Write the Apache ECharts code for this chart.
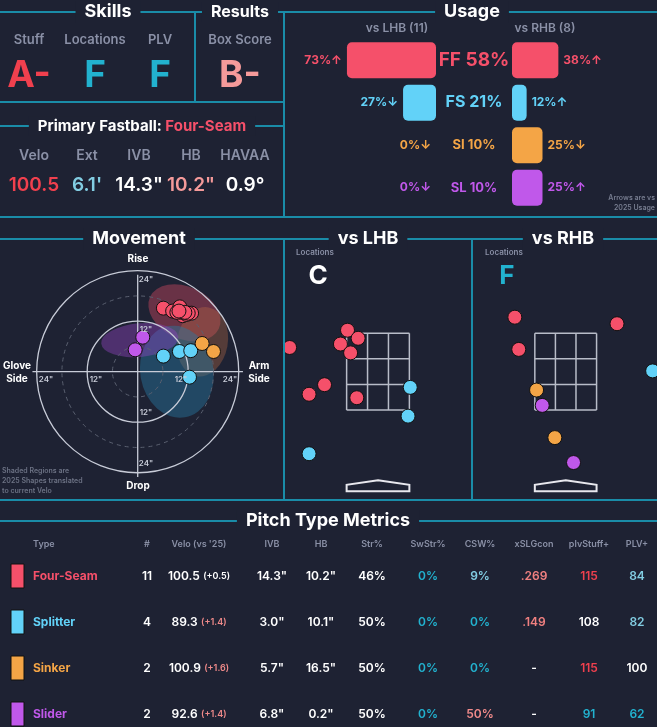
<!DOCTYPE html>
<html><head><meta charset="utf-8">
<script src="https://cdn.jsdelivr.net/npm/echarts@6/dist/echarts.min.js"></script>
<style>html,body{margin:0;background:#1e2233}#c{width:657px;height:727px}</style>
</head><body><div id="c"></div>
<script>
// -- données ---------------------------------------------------------------
const pitchCodes = ['FF', 'FS', 'SI', 'SL'];
const pitchNames = ['Four-Seam', 'Splitter', 'Sinker', 'Slider'];
const pitchColors = ['#f5506a', '#62d2f8', '#f4a546', '#c058ea'];

const usageTotal = [58, 21, 10, 10];
const lhbUsage = [73, 27, 0, 0];
const lhbArrow = ['↑', '↓', '↓', '↓'];
const rhbUsage = [38, 12, 25, 25];
const rhbArrow = ['↑', '↑', '↓', '↑'];

// mouvement (HB, IVB en pouces) par type
const moveFF = [[6.1, 15.1], [8.3, 14.4], [10.0, 15.4], [10.7, 13.3], [11.6, 13.6], [12.8, 13.9],
  [10.4, 14.1], [9.3, 14.1], [12.0, 13.9], [11.2, 14.1], [9.8, 14.4]];
const moveFS = [[6.1, 3.7], [9.9, 4.8], [12.6, 5.0], [12.3, -1.3]];
const moveSI = [[15.3, 6.7], [18.0, 4.8]];
const moveSL = [[1.2, 8.2], [-0.6, 5.2]];
// ellipses 2025 : cx, cy, rx, ry, angle°
const shapes = [[11.1, 14.0, 9.0, 6.2, -25], [15.4, 7.1, 6.0, 8.3, -10], [9.3, 0.0, 8.7, 11.0, 10], [0.5, 7.5, 9.2, 4.0, 5]];
const shapeColors = ['rgba(245,80,106,0.35)', 'rgba(190,110,70,0.35)', 'rgba(40,120,160,0.45)', 'rgba(150,70,200,0.4)'];
const rings = [[24, 0], [18, 1], [12, 0], [6, 1]];

// localisations (x, z en pieds)
const lhbFF = [[-0.69, 3.58], [-0.45, 3.37], [-0.85, 3.22], [-0.62, 2.99], [-1.21, 2.16], [-1.56, 1.91], [-0.48, 1.82], [-2.0, 3.13]];
const lhbFS = [[0.73, 2.09], [0.68, 1.34], [-1.56, 0.36]];
const rhbFF = [[-1.17, 3.92], [1.18, 3.75], [-1.08, 3.08]];
const rhbFS = [[2.0, 2.52]];
const rhbSI = [[-0.67, 2.02], [-0.25, 0.78]];
const rhbSL = [[-0.54, 1.62], [0.18, 0.13]];
const zone = [-0.71, 0.71, 1.5, 3.5];

const tableHeaders = ['Type', '#', "Velo (vs '25)", 'IVB', 'HB', 'Str%', 'SwStr%', 'CSW%', 'xSLGcon', 'plvStuff+', 'PLV+'];
const counts = ['11', '4', '2', '2'];
const velo = ['100.5', '89.3', '100.9', '92.6'];
const veloDiff = ['(+0.5)', '(+1.4)', '(+1.6)', '(+1.4)'];
const ivb = ['14.3"', '3.0"', '5.7"', '6.8"'];
const hb = ['10.2"', '10.1"', '16.5"', '0.2"'];
const strPct = ['46%', '50%', '50%', '50%'];
const swStr = ['0%', '0%', '0%', '0%'];
const csw = ['9%', '0%', '0%', '50%'];
const xslg = ['.269', '.149', '-', '-'];
const plvStuff = ['115', '108', '115', '91'];
const plv = ['84', '82', '100', '62'];

// -- couleurs / helpers ----------------------------------------------------
const BG = '#1e2233', LINE = '#1a8ca8', GREY = '#8a90a6', F = 'Inter, Lato, sans-serif';
const RED = '#f0404e', TEAL = '#22b2cf', PINK = '#f59a9a', LBLUE = '#82cde2';
const g = [];
function txt(x, y, text, o = {}) {
  g.push({ type: 'text', x, y, z: 20, style: Object.assign({ text, fill: '#fff', font: `600 13px ${F}`, align: 'center', verticalAlign: 'middle' }, o) });
}
function ln(x1, y1, x2, y2) {
  g.push({ type: 'line', z: 5, shape: { x1, y1, x2, y2 }, style: { stroke: LINE, lineWidth: 2 } });
}
function title(x, y, text, size = 18) {
  txt(x, y, text, { font: `700 ${size}px ${F}`, backgroundColor: BG, padding: [2, 9] });
}

// cadre
ln(0, 12, 657, 12); ln(195, 12, 195, 102); ln(0, 102, 284, 102); ln(0, 126, 284, 126);
ln(284, 12, 284, 217); ln(0, 217, 657, 217);
ln(0, 239, 657, 239); ln(284, 239, 284, 500); ln(472, 239, 472, 500); ln(0, 500, 657, 500);
ln(0, 521, 657, 521);
title(108, 12, 'Skills'); title(240, 12, 'Results', 16); title(472, 12, 'Usage');
title(139, 239, 'Movement'); title(368, 239, 'vs LHB'); title(563, 239, 'vs RHB');
title(328, 521, 'Pitch Type Metrics');
g.push({ type: 'text', x: 142, y: 126, z: 20, style: { text: '{w|Primary Fastball: }{r|Four-Seam}', align: 'center', verticalAlign: 'middle', backgroundColor: BG, padding: [2, 9],
  rich: { w: { fill: '#fff', font: `700 15px ${F}` }, r: { fill: pitchColors[0], font: `700 15px ${F}` } } } });

// Skills / Results
[['Stuff', 29, 'A-', RED], ['Locations', 95, 'F', TEAL], ['PLV', 160, 'F', TEAL], ['Box Score', 240, 'B-', PINK]].forEach(([l, x, v, c]) => {
  txt(x, 40, l, { fill: GREY, font: `600 13px ${F}` });
  txt(x, 76, v, { fill: c, font: `700 37px ${F}` });
});
[['Velo', 34, '100.5', RED], ['Ext', 87, "6.1'", LBLUE], ['IVB', 139, '14.3"', '#fff'], ['HB', 191, '10.2"', PINK], ['HAVAA', 245, '0.9°', '#fff']].forEach(([l, x, v, c]) => {
  txt(x, 156, l, { fill: GREY, font: `600 14px ${F}` });
  txt(x, 185, v, { fill: c, font: `600 19px ${F}` });
});

// Usage
txt(397, 28, 'vs LHB (11)', { fill: GREY, font: `600 12px ${F}` });
txt(545, 28, 'vs RHB (8)', { fill: GREY, font: `600 12px ${F}` });
const rowY = [60, 102, 145, 188];
pitchCodes.forEach((c, i) => txt(474, rowY[i], `${c} ${usageTotal[i]}%`, { fill: pitchColors[i], font: `700 ${i === 0 ? 19 : i === 1 ? 16 : 13}px ${F}` }));
txt(655, 198, 'Arrows are vs', { fill: '#777d90', font: `600 7px ${F}`, align: 'right' });
txt(655, 208, '2025 Usage', { fill: '#777d90', font: `600 7px ${F}`, align: 'right' });

// Movement
[['Rise', 138, 259], ['Drop', 138, 486]].forEach(([t, x, y]) => txt(x, y, t, { font: `700 10px ${F}` }));
txt(17, 372, 'Glove\nSide', { font: `700 10px ${F}`, lineHeight: 13 });
txt(259, 372, 'Arm\nSide', { font: `700 10px ${F}`, lineHeight: 13 });
[['24"', 146, 280], ['12"', 146, 330], ['12"', 146, 413], ['24"', 146, 464], ['24"', 46, 380], ['12"', 96, 380], ['12"', 181, 380], ['24"', 230, 380]]
  .forEach(([t, x, y]) => txt(x, y, t, { fill: '#c8ccd8', font: `600 8px ${F}` }));
['Shaded Regions are', '2025 Shapes translated', 'to current Velo'].forEach((t, i) =>
  txt(2, 471 + i * 10, t, { fill: '#6c7284', font: `600 7px ${F}`, align: 'left' }));

// Locations
txt(296, 253, 'Locations', { fill: GREY, font: `600 8px ${F}`, align: 'left' });
txt(318, 276, 'C', { font: `700 26px ${F}` });
txt(485, 253, 'Locations', { fill: GREY, font: `600 8px ${F}`, align: 'left' });
txt(507, 276, 'F', { fill: TEAL, font: `700 26px ${F}` });

// Table
const colX = [33, 147, 199, 272, 321, 372, 428, 480, 534, 589, 637];
tableHeaders.forEach((h, j) => txt(colX[j], 544, h, { fill: GREY, font: `600 9px ${F}`, align: j === 0 ? 'left' : 'center' }));
const tableRowY = [576, 622, 668, 714];
pitchNames.forEach((n, i) => {
  const y = tableRowY[i], f = `600 12px ${F}`;
  g.push({ type: 'rect', z: 10, shape: { x: 11, y: y - 12, width: 13, height: 24 }, style: { fill: pitchColors[i], stroke: '#111', lineWidth: 1 } });
  txt(33, y, n, { fill: pitchColors[i], align: 'left', font: `700 12px ${F}` });
  txt(147, y, counts[i], { font: f });
  g.push({ type: 'text', x: 199, y, z: 20, style: { text: `{v|${velo[i]}} {d|${veloDiff[i]}}`, align: 'center', verticalAlign: 'middle',
    rich: { v: { fill: '#fff', font: f }, d: { fill: i === 0 ? '#fff' : '#f08a8a', font: `600 9px ${F}` } } } });
  txt(272, y, ivb[i], { font: f }); txt(321, y, hb[i], { font: f }); txt(372, y, strPct[i], { font: f });
  txt(428, y, swStr[i], { font: f, fill: TEAL });
  txt(480, y, csw[i], { font: f, fill: csw[i] === '50%' ? '#f08a8a' : csw[i] === '0%' ? TEAL : LBLUE });
  txt(534, y, xslg[i], { font: f, fill: xslg[i] === '-' ? '#fff' : '#f08080' });
  const s = +plvStuff[i];
  txt(589, y, plvStuff[i], { font: f, fill: s >= 110 ? RED : s < 100 ? TEAL : '#fff' });
  const p = +plv[i];
  txt(637, y, plv[i], { font: f, fill: p >= 100 ? '#fff' : p < 70 ? TEAL : LBLUE });
});

// -- séries ----------------------------------------------------------------
const dot = (name, data, color, gi) => ({
  name, type: 'scatter', xAxisIndex: gi, yAxisIndex: gi, data, symbolSize: 14, z: 4,
  itemStyle: { color, borderColor: '#111', borderWidth: 1, opacity: 1 }, silent: true,
});
const zoneSeries = (gi) => ({
  type: 'custom', xAxisIndex: gi, yAxisIndex: gi, data: [zone], silent: true, clip: false, z: 2,
  renderItem: (params, api) => {
    const [x0, x1, z0, z1] = [api.value(0), api.value(1), api.value(2), api.value(3)];
    const st = { stroke: '#b8bcc8', lineWidth: 1.5, fill: null };
    const ch = [];
    for (let k = 0; k <= 3; k++) {
      const x = x0 + (x1 - x0) * k / 3, z = z0 + (z1 - z0) * k / 3;
      const a = api.coord([x, z0]), b = api.coord([x, z1]);
      ch.push({ type: 'line', shape: { x1: a[0], y1: a[1], x2: b[0], y2: b[1] }, style: st });
      const c = api.coord([x0, z]), d = api.coord([x1, z]);
      ch.push({ type: 'line', shape: { x1: c[0], y1: c[1], x2: d[0], y2: d[1] }, style: st });
    }
    const pts = [[0, -0.33], [x1, -0.45], [x1, -0.62], [x0, -0.62], [x0, -0.45]].map((p) => api.coord(p));
    ch.push({ type: 'polygon', shape: { points: pts }, style: { stroke: '#e8e8ee', lineWidth: 2, fill: null } });
    return { type: 'group', children: ch };
  },
});

const usageLabel = (arr, pos) => ({
  show: true, position: pos, distance: 5,
  formatter: (p) => `{c${p.dataIndex}|${p.value}%${arr[p.dataIndex]}}`,
  rich: Object.fromEntries(pitchColors.map((c, i) => [`c${i}`, { color: c, fontFamily: F, fontWeight: 700, fontSize: 12 }])),
});

const series = [
  { type: 'custom', xAxisIndex: 0, yAxisIndex: 0, data: shapes, silent: true, clip: false, z: 1,
    renderItem: (params, api) => {
      const c = api.coord([api.value(0), api.value(1)]), s = api.size([1, 1]);
      return { type: 'circle', x: c[0], y: c[1], rotation: api.value(4) * Math.PI / 180,
        scaleX: api.value(2) * s[0], scaleY: api.value(3) * s[1], shape: { cx: 0, cy: 0, r: 1 },
        style: { fill: shapeColors[params.dataIndex] } };
    } },
  { type: 'custom', xAxisIndex: 0, yAxisIndex: 0, data: rings, silent: true, clip: false, z: 2,
    renderItem: (params, api) => {
      const c = api.coord([0, 0]), s = api.size([1, 1]);
      const el = { type: 'circle', shape: { cx: c[0], cy: c[1], r: api.value(0) * s[0] },
        style: { fill: null, stroke: api.value(1) ? '#5a6070' : '#c8ccd8', lineWidth: api.value(1) ? 1 : 1.3, lineDash: api.value(1) ? [4, 4] : null } };
      if (params.dataIndex === 0) {
        const h0 = api.coord([-25, 0]), h1 = api.coord([25, 0]), v0 = api.coord([0, 23]), v1 = api.coord([0, -25]);
        const st = { stroke: '#c8ccd8', lineWidth: 1.3 };
        return { type: 'group', children: [el,
          { type: 'line', shape: { x1: h0[0], y1: h0[1], x2: h1[0], y2: h1[1] }, style: st },
          { type: 'line', shape: { x1: v0[0], y1: v0[1], x2: v1[0], y2: v1[1] }, style: st }] };
      }
      return el;
    } },
  dot('FF', moveFF, pitchColors[0], 0), dot('FS', moveFS, pitchColors[1], 0),
  dot('SI', moveSI, pitchColors[2], 0), dot('SL', moveSL, pitchColors[3], 0),
  zoneSeries(1), zoneSeries(2),
  dot('FF', lhbFF, pitchColors[0], 1), dot('FS', lhbFS, pitchColors[1], 1),
  dot('FF', rhbFF, pitchColors[0], 2), dot('FS', rhbFS, pitchColors[1], 2),
  dot('SI', rhbSI, pitchColors[2], 2), dot('SL', rhbSL, pitchColors[3], 2),
  { type: 'bar', xAxisIndex: 3, yAxisIndex: 3, barWidth: 36, silent: true,
    data: lhbUsage.map((v, i) => ({ value: v, itemStyle: { color: pitchColors[i], borderRadius: 5 } })),
    label: usageLabel(lhbArrow, 'left') },
  { type: 'bar', xAxisIndex: 4, yAxisIndex: 4, barWidth: 36, silent: true,
    data: rhbUsage.map((v, i) => ({ value: v, itemStyle: { color: pitchColors[i], borderRadius: 5 } })),
    label: usageLabel(rhbArrow, 'right') },
];

const hidden = { show: false };
const valAx = (gi, min, max, inverse) => ({ gridIndex: gi, type: 'value', min, max, inverse: !!inverse, show: false, splitLine: hidden });
const locY = { top: 256.6, height: 241.6 };

const chart = echarts.init(document.getElementById('c'), null, { renderer: 'canvas' });
chart.setOption({
  backgroundColor: BG,
  animation: false,
  grid: [
    { left: 11.4, top: 245.4, width: 252.6, height: 252.6 },
    { left: 285.2, width: 185.6, ...locY },
    { left: 474.4, width: 185.6, ...locY },
    { left: 314, top: 39, width: 122, height: 170 },
    { left: 512, top: 39, width: 122, height: 170 },
  ],
  xAxis: [valAx(0, -30, 30), valAx(1, -2.1, 2.1), valAx(2, -2.1, 2.1), valAx(3, 0, 100, true), valAx(4, 0, 100)],
  yAxis: [valAx(0, -30, 30), valAx(1, -0.8, 5.5), valAx(2, -0.8, 5.5),
    { gridIndex: 3, type: 'category', data: pitchCodes, inverse: true, show: false },
    { gridIndex: 4, type: 'category', data: pitchCodes, inverse: true, show: false }],
  series,
  graphic: g,
});
</script></body></html>
